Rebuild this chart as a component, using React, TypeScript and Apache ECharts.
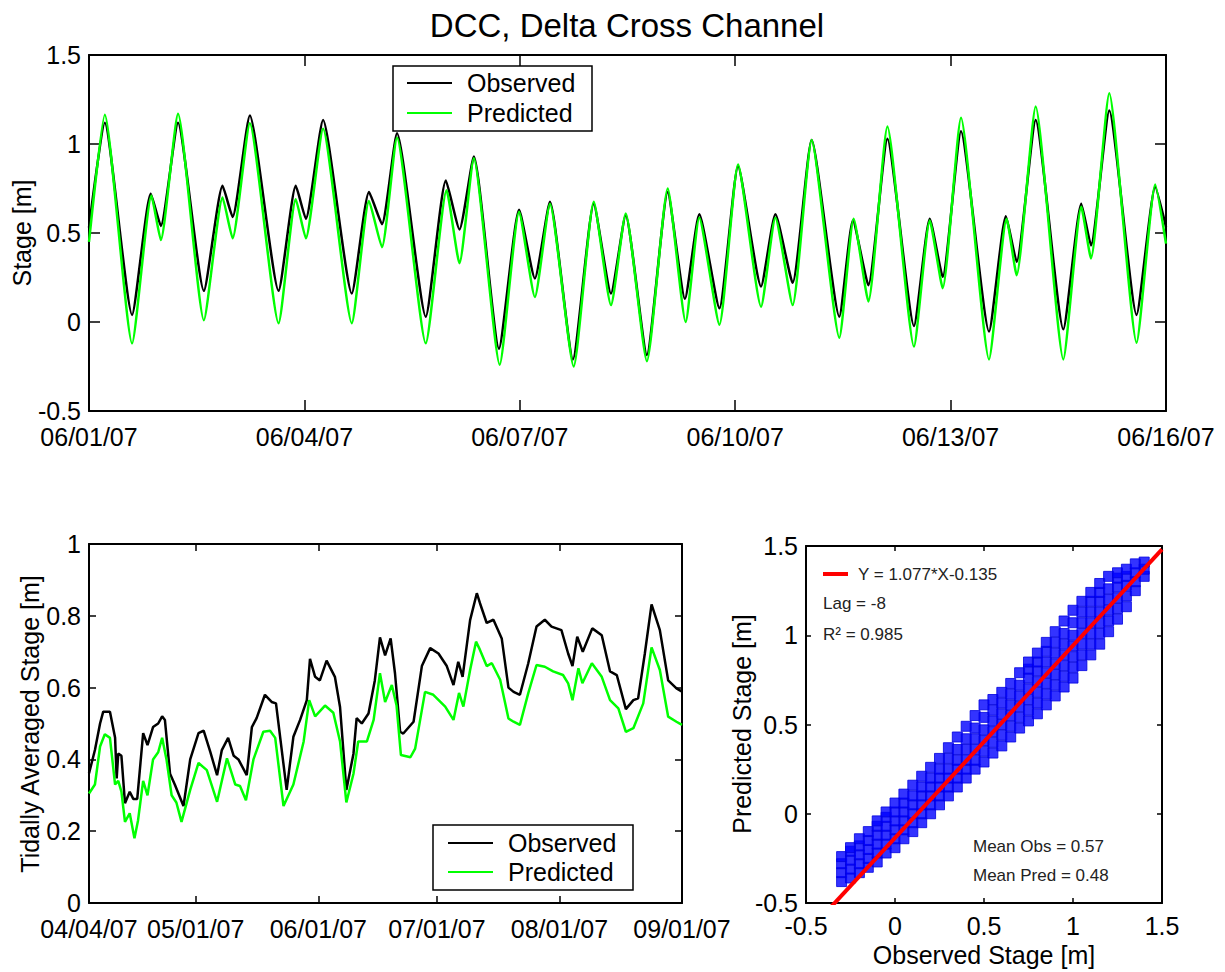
import React, { useEffect, useRef } from "react";
import * as echarts from "echarts";

// ---------- data ----------
const titleText = "DCC, Delta Cross Channel";

// top panel: days after 06/01/07
const topTickLabels = ["06/01/07", "06/04/07", "06/07/07", "06/10/07", "06/13/07", "06/16/07"];
const topObs: [number, number][] = [
  [0, 0.53], [0.22, 1.12], [0.6, 0.04], [0.86, 0.72], [1.0, 0.54], [1.24, 1.12], [1.6, 0.175],
  [1.86, 0.765], [2.0, 0.59], [2.24, 1.16], [2.64, 0.175], [2.88, 0.765], [3.02, 0.58], [3.26, 1.135],
  [3.66, 0.16], [3.9, 0.73], [4.08, 0.55], [4.29, 1.06], [4.69, 0.03], [4.97, 0.795], [5.16, 0.52],
  [5.36, 0.93], [5.71, -0.15], [5.99, 0.63], [6.21, 0.245], [6.42, 0.675], [6.74, -0.21], [7.03, 0.665],
  [7.27, 0.16], [7.475, 0.6], [7.77, -0.185], [8.06, 0.73], [8.3, 0.13], [8.5, 0.605], [8.78, 0.077],
  [9.04, 0.875], [9.36, 0.2], [9.56, 0.605], [9.8, 0.22], [10.065, 1.023], [10.45, 0.03], [10.64, 0.57],
  [10.855, 0.207], [11.12, 1.03], [11.49, -0.022], [11.71, 0.58], [11.89, 0.254], [12.145, 1.072],
  [12.535, -0.054], [12.77, 0.594], [12.92, 0.338], [13.185, 1.135], [13.57, -0.041], [13.82, 0.665],
  [13.955, 0.43], [14.21, 1.188], [14.59, 0.04], [14.85, 0.758], [15, 0.534],
];
const topPred: [number, number][] = [
  [0, 0.45], [0.22, 1.165], [0.6, -0.12], [0.87, 0.71], [1.0, 0.46], [1.24, 1.17], [1.6, 0.01],
  [1.86, 0.7], [2.0, 0.47], [2.24, 1.117], [2.64, -0.007], [2.88, 0.69], [3.02, 0.47], [3.26, 1.085],
  [3.66, -0.007], [3.9, 0.68], [4.08, 0.42], [4.29, 1.035], [4.69, -0.12], [4.98, 0.74], [5.16, 0.33],
  [5.36, 0.92], [5.72, -0.24], [5.99, 0.62], [6.21, 0.14], [6.42, 0.665], [6.75, -0.25], [7.03, 0.675],
  [7.27, 0.095], [7.475, 0.61], [7.77, -0.22], [8.06, 0.75], [8.31, 0.0], [8.5, 0.585], [8.78, -0.015],
  [9.04, 0.885], [9.36, 0.086], [9.56, 0.585], [9.8, 0.095], [10.065, 1.023], [10.45, -0.088], [10.65, 0.58],
  [10.855, 0.115], [11.12, 1.098], [11.49, -0.138], [11.71, 0.57], [11.89, 0.19], [12.145, 1.147],
  [12.535, -0.21], [12.78, 0.58], [12.92, 0.263], [13.185, 1.21], [13.57, -0.21], [13.82, 0.647],
  [13.955, 0.357], [14.21, 1.285], [14.59, -0.116], [14.85, 0.773], [15, 0.44],
];

// bottom-left panel: days after 04/04/07
const avgTickDays = [0, 27, 58, 88, 119, 150];
const avgTickLabels = ["04/04/07", "05/01/07", "06/01/07", "07/01/07", "08/01/07", "09/01/07"];
const avgObs: [number, number][] = [
  [0, 0.361], [1.5, 0.426], [2.8, 0.5], [3.6, 0.533], [5.3, 0.533], [6.6, 0.46], [7.0, 0.347], [7.4, 0.416],
  [8.2, 0.41], [9.1, 0.278], [10.3, 0.31], [11.2, 0.29], [12.2, 0.29], [13.7, 0.473], [14.8, 0.44],
  [16.2, 0.49], [17.5, 0.5], [18.5, 0.52], [19.2, 0.51], [20.5, 0.36], [21.7, 0.33], [23.9, 0.27],
  [25.6, 0.4], [27.7, 0.473], [29.0, 0.48], [30.7, 0.42], [32.4, 0.356], [33.6, 0.426], [35.2, 0.46],
  [36.6, 0.41], [37.8, 0.4], [39.9, 0.356], [41.2, 0.49], [42.4, 0.515], [44.5, 0.58], [46.2, 0.56],
  [47.3, 0.556], [50.0, 0.315], [51.7, 0.463], [53.4, 0.51], [55.1, 0.565], [55.9, 0.68], [57.2, 0.63],
  [58.4, 0.62], [60.1, 0.675], [62.2, 0.63], [63.5, 0.546], [65.1, 0.315], [66.9, 0.416], [67.7, 0.515],
  [69.0, 0.5], [70.7, 0.528], [72.3, 0.62], [73.6, 0.74], [74.9, 0.69], [76.3, 0.737], [77.4, 0.64],
  [78.7, 0.477], [79.5, 0.472], [82.1, 0.505], [84.2, 0.66], [86.3, 0.71], [88.4, 0.695], [90.5, 0.66],
  [92.2, 0.607], [93.4, 0.672], [94.5, 0.63], [96.4, 0.788], [98.1, 0.863], [98.9, 0.835], [100.6, 0.78],
  [102.3, 0.789], [104.4, 0.737], [106.1, 0.6], [107.4, 0.588], [109.0, 0.58], [111.1, 0.667],
  [113.2, 0.77], [115.3, 0.789], [117.0, 0.77], [119.5, 0.76], [121.2, 0.695], [122.3, 0.66],
  [123.5, 0.742], [124.9, 0.7], [127.3, 0.765], [129.7, 0.746], [131.8, 0.645], [133.5, 0.635],
  [135.8, 0.54], [137.7, 0.565], [138.9, 0.57], [140.6, 0.695], [142.3, 0.832], [144.4, 0.76],
  [146.5, 0.62], [148.6, 0.598], [150, 0.589],
];
const avgPred: [number, number][] = [
  [0, 0.305], [1.5, 0.33], [2.8, 0.436], [4.0, 0.47], [5.3, 0.46], [6.6, 0.33], [7.4, 0.34], [8.2, 0.31],
  [9.1, 0.226], [10.3, 0.25], [11.5, 0.18], [12.4, 0.23], [13.7, 0.34], [14.8, 0.3], [16.2, 0.4],
  [17.5, 0.42], [18.5, 0.46], [19.6, 0.4], [20.9, 0.3], [22.1, 0.28], [23.4, 0.226], [25.6, 0.315],
  [27.7, 0.39], [29.8, 0.37], [32.4, 0.282], [34.9, 0.403], [37.0, 0.33], [38.2, 0.326], [39.7, 0.286],
  [41.6, 0.4], [44.1, 0.477], [45.8, 0.48], [47.1, 0.46], [49.2, 0.27], [51.7, 0.33], [54.3, 0.45],
  [55.7, 0.565], [57.2, 0.52], [59.7, 0.55], [61.8, 0.53], [63.5, 0.45], [65.1, 0.28], [66.9, 0.36],
  [68.1, 0.45], [70.3, 0.45], [72.0, 0.51], [73.6, 0.64], [74.9, 0.56], [76.6, 0.607], [77.8, 0.55],
  [78.9, 0.412], [81.3, 0.406], [82.5, 0.43], [85.0, 0.588], [87.1, 0.58], [90.1, 0.547], [92.2, 0.51],
  [93.6, 0.585], [94.7, 0.547], [96.4, 0.649], [97.9, 0.728], [98.9, 0.705], [100.6, 0.66],
  [101.9, 0.668], [104.0, 0.622], [106.1, 0.514], [107.4, 0.505], [109.0, 0.496], [111.1, 0.584],
  [113.2, 0.663], [115.3, 0.658], [117.4, 0.645], [119.9, 0.635], [121.2, 0.612], [122.3, 0.565],
  [123.8, 0.654], [124.8, 0.612], [127.2, 0.668], [129.7, 0.63], [131.8, 0.565], [133.9, 0.542],
  [135.8, 0.477], [137.7, 0.487], [140.2, 0.556], [142.3, 0.712], [144.4, 0.649], [146.5, 0.519],
  [148.6, 0.505], [150, 0.496],
];

// scatter panel: observed stage and the predicted stages read at it
const scatterObs = [
  -0.3, -0.25, -0.2, -0.15, -0.1, -0.05, 0.0, 0.05, 0.1, 0.15, 0.2, 0.25, 0.3, 0.35, 0.4, 0.45, 0.5,
  0.55, 0.6, 0.65, 0.7, 0.75, 0.8, 0.85, 0.9, 0.95, 1.0, 1.05, 1.1, 1.15, 1.2, 1.25, 1.3, 1.35, 1.4,
];
const scatterPred = [
  [-0.38, -0.33, -0.28, -0.24],
  [-0.36, -0.31, -0.26, -0.21, -0.19],
  [-0.33, -0.28, -0.23, -0.18, -0.14],
  [-0.3, -0.25, -0.2, -0.15, -0.1],
  [-0.27, -0.22, -0.17, -0.12, -0.07, -0.04],
  [-0.22, -0.17, -0.12, -0.07, -0.02, 0.01],
  [-0.19, -0.14, -0.09, -0.04, 0.01, 0.06],
  [-0.14, -0.09, -0.04, 0.01, 0.06, 0.11],
  [-0.1, -0.05, 0.0, 0.05, 0.1, 0.16],
  [-0.05, 0.0, 0.05, 0.1, 0.15, 0.21],
  [0.0, 0.05, 0.1, 0.15, 0.2, 0.26],
  [0.05, 0.1, 0.15, 0.2, 0.25, 0.31],
  [0.1, 0.15, 0.2, 0.25, 0.31, 0.37],
  [0.15, 0.2, 0.25, 0.3, 0.36, 0.43],
  [0.2, 0.25, 0.3, 0.36, 0.42, 0.49],
  [0.25, 0.3, 0.36, 0.42, 0.48, 0.55],
  [0.29, 0.35, 0.41, 0.47, 0.54, 0.61],
  [0.34, 0.4, 0.46, 0.52, 0.58, 0.64],
  [0.38, 0.44, 0.5, 0.56, 0.62, 0.68],
  [0.43, 0.49, 0.55, 0.61, 0.67, 0.73],
  [0.48, 0.54, 0.6, 0.66, 0.72, 0.79],
  [0.52, 0.58, 0.64, 0.7, 0.76, 0.81, 0.85],
  [0.56, 0.62, 0.68, 0.74, 0.8, 0.85, 0.9],
  [0.61, 0.67, 0.73, 0.79, 0.85, 0.91, 0.96],
  [0.66, 0.72, 0.78, 0.84, 0.9, 0.96, 1.02],
  [0.71, 0.77, 0.83, 0.89, 0.95, 1.01, 1.08],
  [0.76, 0.82, 0.88, 0.94, 1.0, 1.07, 1.14],
  [0.83, 0.89, 0.95, 1.01, 1.07, 1.13, 1.19],
  [0.89, 0.95, 1.01, 1.07, 1.13, 1.19, 1.24],
  [0.95, 1.01, 1.07, 1.13, 1.19, 1.24, 1.29],
  [1.02, 1.08, 1.14, 1.2, 1.26, 1.33],
  [1.09, 1.15, 1.21, 1.27, 1.32, 1.35],
  [1.16, 1.22, 1.28, 1.33, 1.37],
  [1.25, 1.3, 1.35, 1.4],
  [1.33, 1.37, 1.41],
];
const fitSlope = 1.077;
const fitIntercept = -0.135;
const fitText = "Y = 1.077*X-0.135";
const lagText = "Lag = -8";
const r2Text = "R\u00b2 = 0.985";
const meanObsText = "Mean Obs = 0.57";
const meanPredText = "Mean Pred = 0.48";

// ---------- styling helpers ----------
const FONT = "'Liberation Sans', Arial, Helvetica, sans-serif";
const BLACK = "#000000";
const GREEN = "#00ff00";

function axisCommon(gridIndex: number, tickLen: number, showLabel: boolean) {
  return {
    gridIndex,
    axisLine: { show: true, onZero: false, lineStyle: { color: BLACK, width: 2 } },
    axisTick: { show: true, inside: true, length: tickLen, lineStyle: { color: BLACK, width: 1.5 } },
    axisLabel: { show: showLabel, color: BLACK, fontSize: 25, lineHeight: 20, fontFamily: FONT, margin: 8 },
    splitLine: { show: false },
  };
}

function text(x: number, y: number, t: string, size: number, opts: any = {}) {
  return {
    type: "text",
    x,
    y,
    z: 100,
    rotation: opts.rotation || 0,
    style: {
      text: t,
      fontSize: size,
      fontFamily: FONT,
      fill: opts.fill || BLACK,
      textAlign: opts.align || "left",
      textVerticalAlign: "middle",
    },
  };
}

function legendBox(x: number, y: number, w: number, h: number, lx: number, tx: number, y1: number, y2: number) {
  return [
    { type: "rect", z: 100, shape: { x, y, width: w, height: h }, style: { fill: "#fff", stroke: BLACK, lineWidth: 1.5 } },
    { type: "line", z: 101, shape: { x1: lx, y1, x2: lx + 45, y2: y1 }, style: { stroke: BLACK, lineWidth: 2 } },
    { type: "line", z: 101, shape: { x1: lx, y1: y2, x2: lx + 45, y2 }, style: { stroke: GREEN, lineWidth: 2 } },
    text(tx, y1, "Observed", 25),
    text(tx, y2, "Predicted", 25),
  ];
}

export default function App() {
  const ref = useRef<HTMLDivElement>(null);

  useEffect(() => {
    if (!ref.current) return;
    const chart = echarts.init(ref.current, undefined, { renderer: "svg" });

    const scatterData: [number, number][] = [];
    scatterObs.forEach((o, i) => scatterPred[i].forEach((p) => scatterData.push([o, p])));
    const fitLine = [
      [-0.5, fitSlope * -0.5 + fitIntercept],
      [1.5, fitSlope * 1.5 + fitIntercept],
    ];

    const topX = { type: "value", min: 0, max: 15, interval: 3 };
    const avgX = { type: "value", min: 0, max: 150 };
    const scX = { type: "value", min: -0.5, max: 1.5, interval: 0.5 };

    const option: any = {
      animation: false,
      backgroundColor: "#ffffff",
      grid: [
        { left: 89, top: 55, width: 1077, height: 356 },
        { left: 89, top: 544, width: 593, height: 359 },
        { left: 806, top: 546, width: 356, height: 357 },
      ],
      xAxis: [
        {
          ...topX,
          ...axisCommon(0, 11, true),
          position: "bottom",
          axisLabel: {
            ...axisCommon(0, 11, true).axisLabel,
            margin: 16,
            formatter: (v: number) => topTickLabels[Math.round(v / 3)],
          },
        },
        { ...topX, ...axisCommon(0, 11, false), position: "top" },
        {
          ...avgX,
          ...axisCommon(1, 7, true),
          position: "bottom",
          axisTick: { ...axisCommon(1, 7, true).axisTick, customValues: avgTickDays },
          axisLabel: {
            ...axisCommon(1, 7, true).axisLabel,
            margin: 16,
            customValues: avgTickDays,
            formatter: (v: number) => avgTickLabels[avgTickDays.indexOf(Math.round(v))] || "",
          },
        },
        {
          ...avgX,
          ...axisCommon(1, 7, false),
          position: "top",
          axisTick: { ...axisCommon(1, 7, false).axisTick, customValues: avgTickDays },
        },
        {
          ...scX,
          ...axisCommon(2, 5, true),
          position: "bottom",
          axisLabel: { ...axisCommon(2, 5, true).axisLabel, margin: 13 },
        },
        { ...scX, ...axisCommon(2, 5, false), position: "top" },
      ],
      yAxis: [
        { type: "value", min: -0.5, max: 1.5, interval: 0.5, ...axisCommon(0, 11, true), position: "left" },
        { type: "value", min: -0.5, max: 1.5, interval: 0.5, ...axisCommon(0, 11, false), position: "right" },
        { type: "value", min: 0, max: 1, interval: 0.2, ...axisCommon(1, 7, true), position: "left" },
        { type: "value", min: 0, max: 1, interval: 0.2, ...axisCommon(1, 7, false), position: "right" },
        { type: "value", min: -0.5, max: 1.5, interval: 0.5, ...axisCommon(2, 5, true), position: "left" },
        { type: "value", min: -0.5, max: 1.5, interval: 0.5, ...axisCommon(2, 5, false), position: "right" },
      ],
      series: [
        {
          name: "Observed", type: "line", xAxisIndex: 0, yAxisIndex: 0, data: topObs,
          showSymbol: false, smooth: 0.18, lineStyle: { color: BLACK, width: 2.5 }, itemStyle: { color: BLACK }, z: 2,
        },
        {
          name: "Predicted", type: "line", xAxisIndex: 0, yAxisIndex: 0, data: topPred,
          showSymbol: false, smooth: 0.18, lineStyle: { color: GREEN, width: 2.5 }, itemStyle: { color: GREEN }, z: 3,
        },
        {
          name: "Observed", type: "line", xAxisIndex: 2, yAxisIndex: 2, data: avgObs,
          showSymbol: false, lineStyle: { color: BLACK, width: 2.5 }, itemStyle: { color: BLACK }, z: 2,
        },
        {
          name: "Predicted", type: "line", xAxisIndex: 2, yAxisIndex: 2, data: avgPred,
          showSymbol: false, lineStyle: { color: GREEN, width: 2.5 }, itemStyle: { color: GREEN }, z: 3,
        },
        {
          name: "Obs vs Pred", type: "scatter", xAxisIndex: 4, yAxisIndex: 4, data: scatterData,
          symbol: "rect", symbolSize: 10,
          itemStyle: { color: "#0000ff", borderColor: "#0000e0", borderWidth: 1 }, z: 2,
        },
        {
          name: "Fit", type: "line", xAxisIndex: 4, yAxisIndex: 4, data: fitLine, clip: true,
          showSymbol: false, lineStyle: { color: "#ff0000", width: 4 }, itemStyle: { color: "#ff0000" }, z: 4,
        },
      ],
      graphic: [
        text(627, 25, titleText, 33, { align: "center" }),
        text(22, 233, "Stage [m]", 25, { align: "center", rotation: Math.PI / 2 }),
        text(30, 724, "Tidally Averaged Stage [m]", 25, { align: "center", rotation: Math.PI / 2 }),
        text(742, 724, "Predicted Stage [m]", 25, { align: "center", rotation: Math.PI / 2 }),
        text(984, 955, "Observed Stage [m]", 25, { align: "center" }),
        ...legendBox(393, 66, 199, 65, 407, 467, 83, 113),
        ...legendBox(433, 825, 200, 65, 448, 508, 843, 872),
        { type: "line", z: 101, shape: { x1: 823, y1: 574, x2: 848, y2: 574 }, style: { stroke: "#ff0000", lineWidth: 4 } },
        text(858, 574, fitText, 17, { fill: "#222" }),
        text(823, 603, lagText, 17, { fill: "#222" }),
        text(823, 634, r2Text, 17, { fill: "#222" }),
        text(973, 846, meanObsText, 17, { fill: "#222" }),
        text(973, 875, meanPredText, 17, { fill: "#222" }),
      ],
    };

    chart.setOption(option);
    return () => chart.dispose();
  }, []);

  return (
    <div
      ref={ref}
      style={{ position: "absolute", left: 0, top: 0, width: 1225, height: 972, background: "#fff" }}
    />
  );
}
